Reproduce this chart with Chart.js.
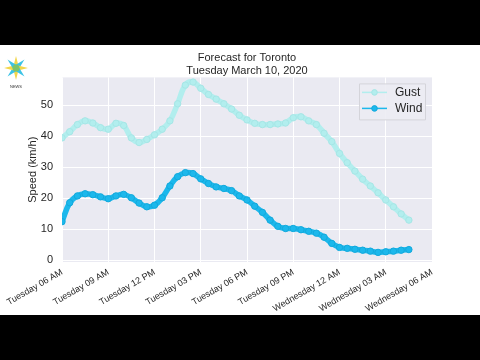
<!DOCTYPE html>
<html>
<head>
<meta charset="utf-8">
<script src="https://cdn.jsdelivr.net/npm/chart.js@4"></script>
<style>
  html, body { margin: 0; padding: 0; background: #000; }
  #frame { position: relative; width: 480px; height: 360px; background: #000; overflow: hidden; }
  #panel { position: absolute; left: 0; top: 45px; width: 480px; height: 270px; background: #fff; }
  #logo { position: absolute; left: 3px; top: 8px; }
  canvas { position: absolute; left: 0; top: 0; }
</style>
</head>
<body>
<div id="frame">
  <div id="panel">
    <canvas id="chart" width="480" height="270"></canvas>
    <svg id="logo" width="26" height="40" viewBox="0 0 26 40">
      <g transform="translate(13,15)">
        <polygon points="0,-12 3,0 0,12 -3,0" fill="#f2d64b"/>
        <polygon points="0,-12 3,0 0,12 -3,0" fill="#3cc3e6" transform="rotate(45)"/>
        <polygon points="0,-12 3,0 0,12 -3,0" fill="#f2d64b" transform="rotate(90)"/>
        <polygon points="0,-12 3,0 0,12 -3,0" fill="#3cc3e6" transform="rotate(135)"/>
        <circle r="3.5" fill="#7cc46a"/>
      </g>
      <text x="13" y="35" font-size="4" text-anchor="middle" fill="#333" font-family="Liberation Sans, Arial">NEWS</text>
    </svg>
  </div>
</div>
<script>
// hours since Tuesday 06 AM
const hours = [0, 0.5, 1, 1.5, 2, 2.5, 3, 3.5, 4, 4.5, 5, 5.5, 6, 6.5, 7, 7.5, 8, 8.5, 9, 9.5,
  10, 10.5, 11, 11.5, 12, 12.5, 13, 13.5, 14, 14.5, 15, 15.5, 16, 16.5, 17, 17.5, 18, 18.5, 19, 19.5,
  20, 20.5, 21, 21.5, 22, 22.5];

const gust = [39.5, 41.5, 43.8, 45, 44.3, 42.8, 42.3, 44.2, 43.5, 39.5, 38, 39, 40.5, 42.3, 45, 50.5,
  56.5, 57.5, 55.5, 53.5, 52, 50.5, 48.8, 46.8, 45.3, 44.2, 43.8, 43.8, 44, 44.3, 46, 46.3, 45, 43.8,
  41, 38.3, 34.5, 31.5, 28.8, 26.2, 24, 21.8, 19.5, 17.3, 15, 13];

const wind = [12.5, 18.6, 20.8, 21.5, 21.2, 20.5, 19.9, 20.8, 21.3, 20.2, 18.5, 17.3, 17.8, 20.2, 24,
  27, 28.3, 28, 26.3, 24.8, 23.7, 23.2, 22.5, 20.8, 19.5, 17.5, 15.5, 13, 11, 10.3, 10.3, 9.9, 9.4, 8.8,
  7.5, 5.5, 4.2, 3.9, 3.6, 3.3, 3, 2.6, 2.8, 3, 3.3, 3.5];

const xTicks = [0, 3, 6, 9, 12, 15, 18, 21, 24];
const xTickLabels = ['Tuesday 06 AM', 'Tuesday 09 AM', 'Tuesday 12 PM', 'Tuesday 03 PM',
  'Tuesday 06 PM', 'Tuesday 09 PM', 'Wednesday 12 AM', 'Wednesday 03 AM', 'Wednesday 06 AM'];
const yTicks = [0, 10, 20, 30, 40, 50];

const FONT = '"Liberation Sans", Arial, sans-serif';
const GUST_COLOR = '#b2eeee';
const WIND_COLOR = '#1cb8ec';

// grey seaborn-like plot background
const plotBg = {
  id: 'plotBg',
  beforeDraw(chart) {
    const { ctx, chartArea: a } = chart;
    ctx.save();
    ctx.fillStyle = '#eaeaf2';
    ctx.fillRect(a.left, a.top, a.right - a.left, a.bottom - a.top);
    ctx.restore();
  }
};

// legend drawn inside the plot, top right
const innerLegend = {
  id: 'innerLegend',
  afterDraw(chart) {
    const { ctx, chartArea: a } = chart;
    const boxR = a.right - 7, boxW = 66, boxT = a.top + 6, boxH = 36;
    const boxL = boxR - boxW;
    ctx.save();
    ctx.fillStyle = 'rgba(236,236,243,0.9)';
    ctx.strokeStyle = '#d4d4da';
    ctx.lineWidth = 1;
    ctx.beginPath();
    ctx.rect(boxL + 0.5, boxT + 0.5, boxW, boxH);
    ctx.fill();
    ctx.stroke();
    chart.data.datasets.forEach((ds, i) => {
      const y = boxT + 9 + i * 16;
      ctx.strokeStyle = ds.borderColor;
      ctx.lineWidth = 1.5;
      ctx.beginPath();
      ctx.moveTo(boxL + 3, y);
      ctx.lineTo(boxL + 28, y);
      ctx.stroke();
      ctx.fillStyle = ds.pointBackgroundColor;
      ctx.strokeStyle = ds.pointBorderColor;
      ctx.beginPath();
      ctx.arc(boxL + 15.5, y, 2.8, 0, Math.PI * 2);
      ctx.fill();
      ctx.lineWidth = 1;
      ctx.stroke();
      ctx.fillStyle = '#262626';
      ctx.font = '12px ' + FONT;
      ctx.textBaseline = 'middle';
      ctx.textAlign = 'left';
      ctx.fillText(ds.label, boxL + 36, y + 0.5);
    });
    ctx.restore();
  }
};

new Chart(document.getElementById('chart'), {
  type: 'line',
  data: {
    datasets: [
      {
        label: 'Gust',
        data: hours.map((h, i) => ({ x: h, y: gust[i] })),
        borderColor: GUST_COLOR,
        borderWidth: 5.5,
        pointRadius: 3.2,
        pointBackgroundColor: GUST_COLOR,
        pointBorderColor: '#a6e6e6',
        pointBorderWidth: 1,
        tension: 0.4
      },
      {
        label: 'Wind',
        data: hours.map((h, i) => ({ x: h, y: wind[i] })),
        borderColor: WIND_COLOR,
        borderWidth: 5.5,
        pointRadius: 3.2,
        pointBackgroundColor: WIND_COLOR,
        pointBorderColor: '#13a9dc',
        pointBorderWidth: 1,
        tension: 0.4
      }
    ]
  },
  options: {
    responsive: false,
    animation: false,
    layout: { padding: { left: 14, right: 0, top: 0, bottom: 0 } },
    plugins: {
      legend: { display: false },
      tooltip: { enabled: false },
      title: {
        display: true,
        text: ['Forecast for Toronto', 'Tuesday March 10, 2020'],
        color: '#262626',
        font: { family: FONT, size: 11, weight: 'normal', lineHeight: 1.2 },
        padding: { top: 6, bottom: 0 }
      }
    },
    scales: {
      x: {
        type: 'linear',
        min: 0,
        max: 24,
        afterBuildTicks: (s) => { s.ticks = xTicks.map(v => ({ value: v })); },
        afterFit: (s) => { s.height = 53; },
        grid: { color: '#ffffff', lineWidth: 1, drawTicks: false },
        border: { display: false },
        ticks: {
          autoSkip: false,
          maxRotation: 30,
          minRotation: 30,
          padding: 5,
          color: '#262626',
          font: { family: FONT, size: 9 },
          callback: (v) => xTickLabels[xTicks.indexOf(v)]
        }
      },
      y: {
        min: -0.5,
        max: 59,
        afterBuildTicks: (s) => { s.ticks = yTicks.map(v => ({ value: v })); },
        afterFit: (s) => { s.width = 48; },
        grid: { color: '#ffffff', lineWidth: 1, drawTicks: false },
        border: { display: false },
        ticks: {
          padding: 9,
          color: '#262626',
          font: { family: FONT, size: 11 }
        },
        title: {
          display: true,
          text: 'Speed (km/h)',
          color: '#262626',
          font: { family: FONT, size: 11 },
          padding: { top: 12, bottom: 0 }
        }
      },
      y2: {
        position: 'right',
        display: true,
        grid: { display: false, drawTicks: false },
        border: { display: false },
        ticks: { display: false },
        afterFit: (s) => { s.width = 48; }
      }
    }
  },
  plugins: [plotBg, innerLegend]
});
</script>
</body>
</html>
